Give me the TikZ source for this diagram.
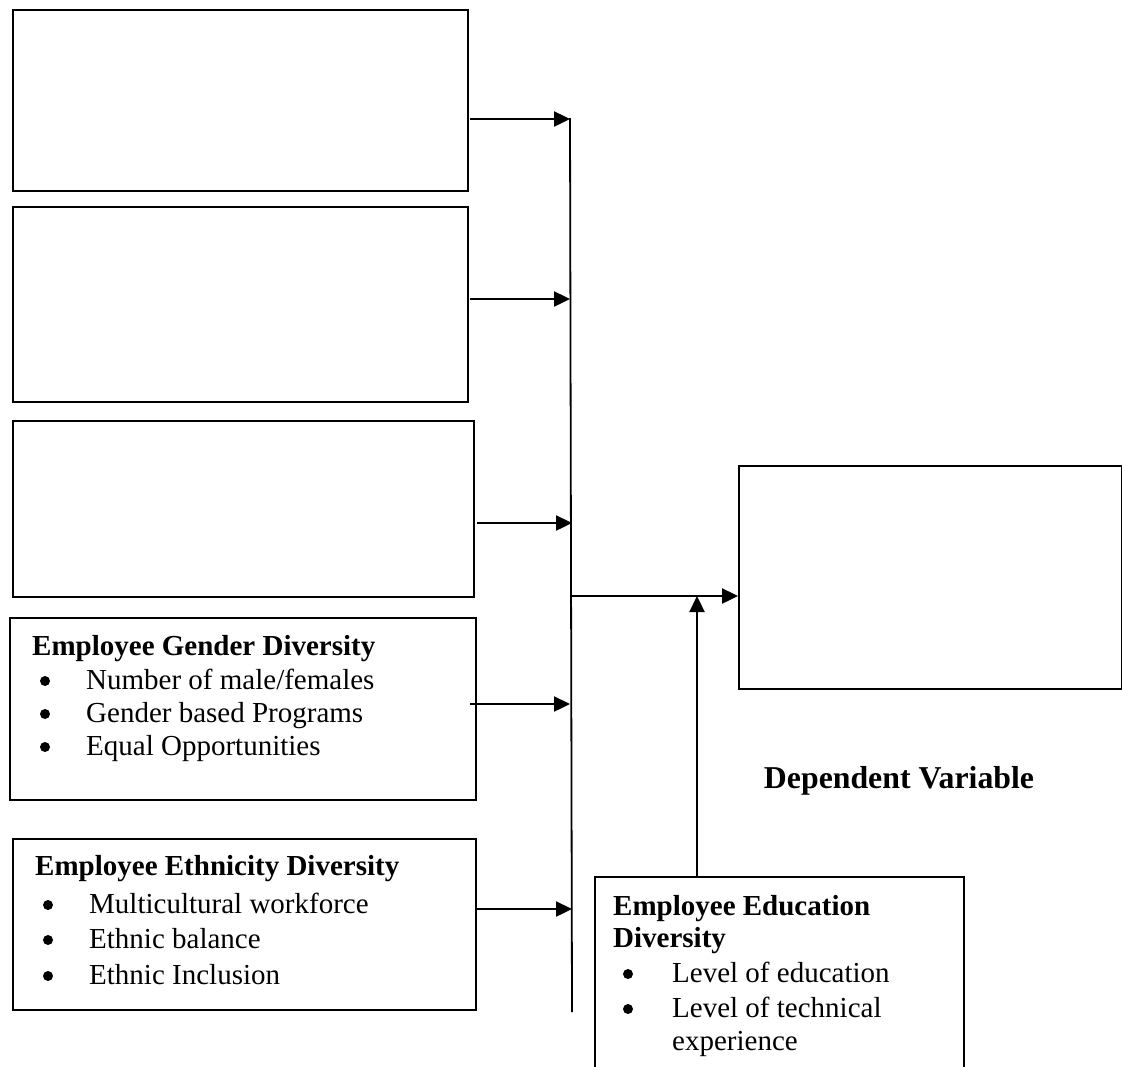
\documentclass[tikz,border=0pt]{standalone}
\usepackage{fontspec}
\setmainfont{Liberation Serif}
\usetikzlibrary{arrows.meta}
\begin{document}
\begin{tikzpicture}[x=1pt,y=-1pt,
  box/.style={draw=black, line width=2pt, rectangle, inner sep=0pt, anchor=north west},
  arr/.style={line width=2.4pt, -{Triangle[length=16pt,width=15pt]}},
  bus/.style={line width=1.8pt},
  head/.style={anchor=base west, inner sep=0pt, font=\fontsize{29}{33}\selectfont\bfseries},
  item/.style={anchor=base west, inner sep=0pt, font=\fontsize{29}{33}\selectfont},
  bul/.style={circle, fill=black, inner sep=0pt, minimum size=10pt}]
\useasboundingbox (0,0) rectangle (1122,1066);
\clip (0,0) rectangle (1122,1066);
\fill[white] (0,0) rectangle (1122,1066);
% boxes
\node[box, minimum width=455pt, minimum height=181pt] (b1) at (12,9) {};
\node[box, minimum width=455pt, minimum height=195pt] (b2) at (12,206) {};
\node[box, minimum width=461pt, minimum height=176pt] (b3) at (12,420) {};
\node[box, minimum width=466pt, minimum height=182pt] (b4) at (9,617) {};
\node[box, minimum width=463pt, minimum height=171pt] (b5) at (12,838) {};
\node[box, minimum width=369pt, minimum height=220pt] (b6) at (594,876) {};
\node[box, minimum width=383pt, minimum height=223pt] (dv) at (738,465) {};
% texts
\node[head] (t4h) at (32,655) {Employee Gender Diversity};
\node[bul] (t4b1) at (45,681) {};
\node[item] (t4i1) at (86,689) {Number of male/females};
\node[bul] (t4b2) at (45,714) {};
\node[item] (t4i2) at (86,722) {Gender based Programs};
\node[bul] (t4b3) at (45,747) {};
\node[item] (t4i3) at (86,755) {Equal Opportunities};
\node[head] (t5h) at (35,875) {Employee Ethnicity Diversity};
\node[bul] (t5b1) at (48,905) {};
\node[item] (t5i1) at (89,913) {Multicultural workforce};
\node[bul] (t5b2) at (48,940) {};
\node[item] (t5i2) at (89,948) {Ethnic balance};
\node[bul] (t5b3) at (48,976) {};
\node[item] (t5i3) at (89,984) {Ethnic Inclusion};
\node[head] (t6h1) at (613,915) {Employee Education};
\node[head] (t6h2) at (613,947) {Diversity};
\node[bul] (t6b1) at (628,974) {};
\node[item] (t6i1) at (672,982) {Level of education};
\node[bul] (t6b2) at (628,1009) {};
\node[item] (t6i2) at (672,1017) {Level of technical};
\node[item] (t6i3) at (672,1050) {experience};
\node[anchor=base, inner sep=0pt, font=\fontsize{31.8}{36}\selectfont\bfseries] (dvl) at (899,788) {Dependent Variable};
% bus line
\coordinate (bt) at (570,118);
\coordinate (bb) at (572,1012);
\draw[bus] (bt) -- (bb);
% arrows into bus
\coordinate (a1) at (470,119);
\coordinate (a2) at (470,299);
\coordinate (a3) at (477,523);
\coordinate (a4) at (470,704);
\coordinate (a5) at (477,909);
\draw[arr] (a1) -- (a1 -| bt);
\draw[arr] (a2) -- (a2 -| bt);
\draw[arr] (a3) -- (a3 -| bb);
\draw[arr] (a4) -- (a4 -| bt);
\draw[arr] (a5) -- (a5 -| bb);
% to dependent variable
\coordinate (j) at (571,596);
\draw[arr] (j) -- (dv.west |- j);
\coordinate (u) at (697,876);
\draw[arr] (u) -- (u |- j);
\end{tikzpicture}
\end{document}
